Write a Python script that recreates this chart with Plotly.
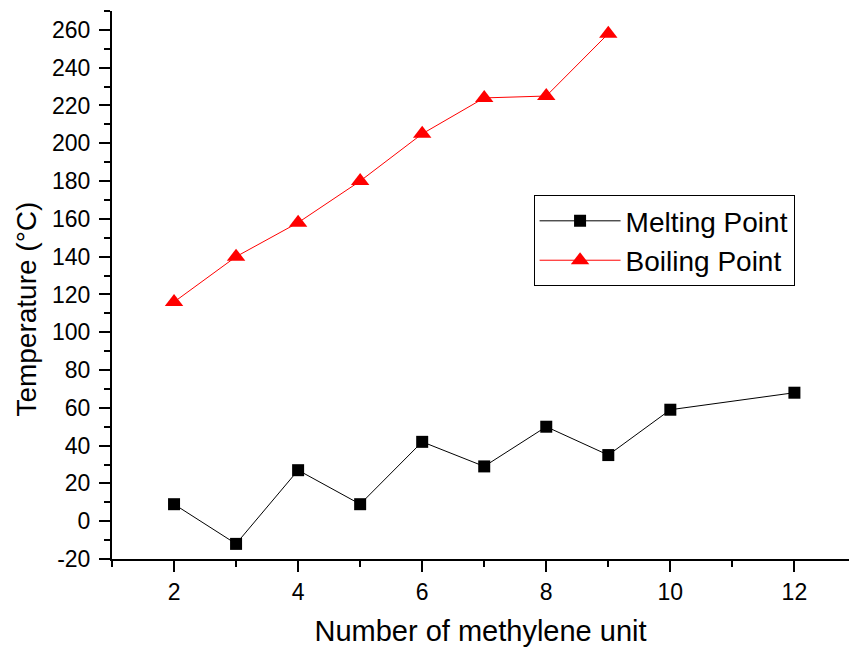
import plotly.graph_objects as go

# Number of methylene units in the chain
melt_units = [2, 3, 4, 5, 6, 7, 8, 9, 10, 12]
melt_temp = [9, -12, 27, 9, 42, 29, 50, 35, 59, 68]

boil_units = [2, 3, 4, 5, 6, 7, 8, 9]
boil_temp = [116, 140, 158, 180, 205, 224, 225, 258]

x_ticks = [2, 4, 6, 8, 10, 12]
y_ticks = list(range(-20, 261, 20))

FONT = "Liberation Sans, Arial, sans-serif"

fig = go.Figure()
fig.add_trace(go.Scatter(
    x=melt_units, y=melt_temp, mode="lines+markers", name="Melting Point",
    line=dict(color="black", width=1),
    marker=dict(symbol="square", size=12, color="black"),
))
fig.add_trace(go.Scatter(
    x=boil_units, y=boil_temp, mode="lines+markers", name="Boiling Point",
    line=dict(color="red", width=1),
    marker=dict(symbol="triangle-up", size=16, color="red"),
))

axis_common = dict(
    showgrid=False, zeroline=False, showline=True, linecolor="black", linewidth=2,
    ticks="outside", ticklen=11, tickwidth=2, tickcolor="black",
    tickfont=dict(family=FONT, size=23, color="black"),
    minor=dict(ticks="outside", ticklen=6, tickwidth=2, tickcolor="black"),
)

fig.update_xaxes(
    range=[1, 12.88], tickvals=x_ticks, ticktext=[str(v) for v in x_ticks],
    title=dict(text="Number of methylene unit", font=dict(family=FONT, size=29, color="black"), standoff=17),
    **axis_common,
)
fig.update_xaxes(minor=dict(dtick=1, tick0=1))
fig.update_yaxes(
    range=[-20, 270], tickvals=y_ticks, ticktext=[str(v) for v in y_ticks],
    ticklabelstandoff=4,
    **axis_common,
)
fig.update_yaxes(minor=dict(dtick=10, tick0=-20))

# Vertical axis label, placed a little below the plot's midline
fig.add_annotation(
    text="Temperature (°C)", textangle=-90,
    xref="paper", yref="paper", x=-0.116, y=0.456,
    xanchor="center", yanchor="middle", showarrow=False,
    font=dict(family=FONT, size=28, color="black"),
)

fig.update_layout(
    width=849, height=648,
    margin=dict(l=112, r=0, t=11, b=89),
    paper_bgcolor="white", plot_bgcolor="white",
    font=dict(family=FONT, color="black"),
    legend=dict(
        x=0.572, y=0.664, xanchor="left", yanchor="top",
        bordercolor="black", borderwidth=1, bgcolor="white",
        font=dict(family=FONT, size=28, color="black"),
        tracegroupgap=0, itemwidth=81,
    ),
    showlegend=True,
)

fig.write_html("out.html")
